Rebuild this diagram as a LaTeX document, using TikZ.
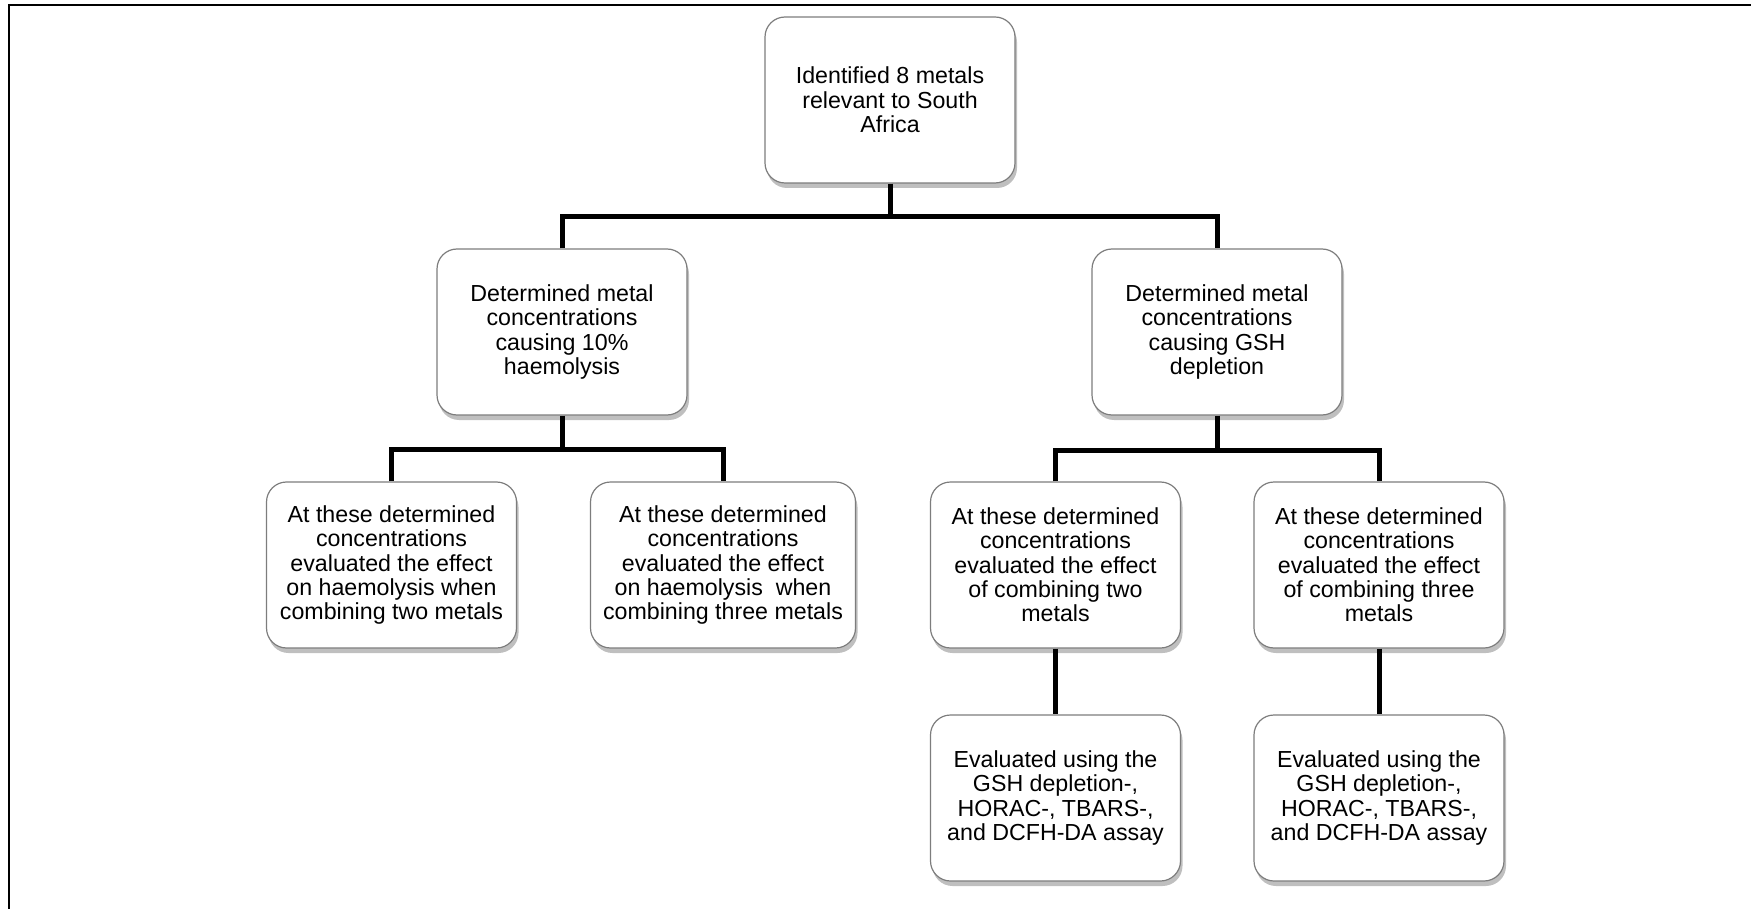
\documentclass[tikz,border=0pt]{standalone}
\usepackage{fontspec}
\setmainfont{Liberation Sans}
\usetikzlibrary{shadows}
\definecolor{boxgray}{RGB}{125,125,125}
\begin{document}
\begin{tikzpicture}[x=0.5pt,y=-0.5pt,
  box/.style={draw=boxgray, line width=0.6pt, fill=white, rounded corners=10pt,
    align=center, minimum width=125pt, minimum height=83pt, inner sep=0pt,
    font=\fontsize{11.6pt}{12.15pt}\selectfont,
    drop shadow={shadow xshift=1pt, shadow yshift=-2.5pt, opacity=0.25, fill=black}},
  conn/.style={line width=2.5pt, black, line join=miter}]
\useasboundingbox (0,0) rectangle (1751,909);
\draw[line width=1pt] (9,909) -- (9,5) -- (1751,5);

\node[box] (top) at (890,100) {Identified 8 metals\\relevant to South\\Africa};
\node[box] (ml) at (562,332) {Determined metal\\concentrations\\causing 10\%\\haemolysis};
\node[box] (mr) at (1217,332) {Determined metal\\concentrations\\causing GSH\\depletion};
\node[box] (a) at (391.5,565) {At these determined\\concentrations\\evaluated the effect\\on haemolysis when\\combining two metals};
\node[box, minimum width=132.5pt] (b) at (723,565) {At these determined\\concentrations\\evaluated the effect\\on haemolysis\ \ when\\combining three metals};
\node[box] (c) at (1055.5,565) {At these determined\\concentrations\\evaluated the effect\\of combining two\\metals};
\node[box] (d) at (1379,565) {At these determined\\concentrations\\evaluated the effect\\of combining three\\metals};
\node[box] (e) at (1055.5,798) {Evaluated using the\\GSH depletion-,\\HORAC-, TBARS-,\\and DCFH-DA assay};
\node[box] (f) at (1379,798) {Evaluated using the\\GSH depletion-,\\HORAC-, TBARS-,\\and DCFH-DA assay};

\coordinate (j1) at (890,217);
\coordinate (j2) at (562,449);
\coordinate (j3) at (1217,450);
\draw[conn] (top.south) -- (j1);
\draw[conn] (ml.north) |- (j1) -| (mr.north);
\draw[conn] (ml.south) -- (j2);
\draw[conn] (a.north) |- (j2) -| (b.north);
\draw[conn] (mr.south) -- (j3);
\draw[conn] (c.north) |- (j3) -| (d.north);
\draw[conn] (c.south) -- (e.north);
\draw[conn] (d.south) -- (f.north);
\end{tikzpicture}
\end{document}
